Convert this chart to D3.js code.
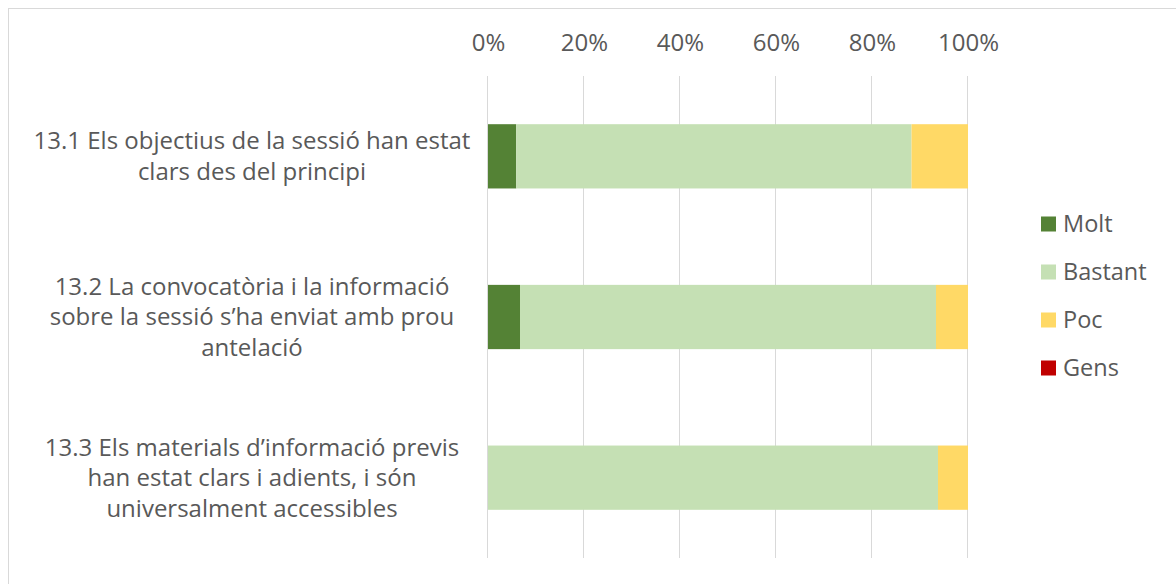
<!DOCTYPE html>
<html>
<head>
<meta charset="utf-8">
<script src="https://cdn.jsdelivr.net/npm/d3@7"></script>
<style>
  html, body { margin: 0; padding: 0; background: #fff; }
  svg { display: block; font-family: "Open Sans", sans-serif; }
</style>
</head>
<body>
<svg id="chart" width="1176" height="584"></svg>
<script>
const categories = [
  "13.1 Els objectius de la sessió han estat clars des del principi",
  "13.2 La convocatòria i la informació sobre la sessió s’ha enviat amb prou antelació",
  "13.3 Els materials d’informació previs han estat clars i adients, i són universalment accessibles"
];
const seriesNames = ["Molt", "Bastant", "Poc", "Gens"];
const seriesColors = ["#548235", "#c5e0b4", "#ffd966", "#c00000"];
const molt    = [1 / 17, 1 / 15, 0];
const bastant = [14 / 17, 13 / 15, 15 / 16];
const poc     = [2 / 17, 1 / 15, 1 / 16];
const gens    = [0, 0, 0];
const tickValues = [0, 0.2, 0.4, 0.6, 0.8, 1.0];

const rows = categories.map((c, i) => ({
  cat: c, Molt: molt[i], Bastant: bastant[i], Poc: poc[i], Gens: gens[i]
}));

const svg = d3.select("#chart");
const textColor = "#595959";

// chart border
svg.append("rect")
  .attr("x", 8.5).attr("y", 8.5)
  .attr("width", 1180).attr("height", 600)
  .attr("fill", "none").attr("stroke", "#d9d9d9").attr("stroke-width", 1);

const x = d3.scaleLinear().domain([0, 1]).range([488, 968]);
const y = d3.scaleBand().domain(categories).range([76, 558]).paddingInner(0.6).paddingOuter(0.3);

// gridlines
svg.append("g").selectAll("line").data(tickValues).join("line")
  .attr("x1", d => Math.round(x(d)) - 0.5).attr("x2", d => Math.round(x(d)) - 0.5)
  .attr("y1", 76).attr("y2", 558)
  .attr("stroke", "#d9d9d9").attr("stroke-width", 1);

// top axis labels
const xAxis = d3.axisTop(x).tickValues(tickValues).tickFormat(d3.format(".0%")).tickSize(0).tickPadding(0);
const gx = svg.append("g").attr("transform", "translate(0,51)").call(xAxis);
gx.select(".domain").remove();
gx.selectAll("text").attr("fill", textColor).style("font-size", "24px")
  .style("font-family", "'Open Sans', sans-serif");

// stacked bars
const stack = d3.stack().keys(seriesNames);
const stacked = stack(rows);
const color = d3.scaleOrdinal().domain(seriesNames).range(seriesColors);

svg.append("g").selectAll("g").data(stacked).join("g")
  .attr("fill", d => color(d.key))
  .selectAll("rect").data(d => d).join("rect")
  .attr("x", d => x(d[0]))
  .attr("width", d => Math.max(0, x(d[1]) - x(d[0])))
  .attr("y", d => y(d.data.cat))
  .attr("height", y.bandwidth());

// category labels (wrapped, centered)
const labelG = svg.append("g");
const lineH = 30.5;
const maxW = 448;
const centerX = 252;
categories.forEach(cat => {
  const t = labelG.append("text")
    .attr("fill", textColor).style("font-size", "24px")
    .attr("text-anchor", "middle");
  const words = cat.split(" ");
  let lines = [];
  let cur = [];
  const probe = t.append("tspan");
  words.forEach(w => {
    cur.push(w);
    probe.text(cur.join(" "));
    if (probe.node().getComputedTextLength() > maxW && cur.length > 1) {
      cur.pop();
      lines.push(cur.join(" "));
      cur = [w];
    }
  });
  lines.push(cur.join(" "));
  probe.remove();
  const cy = y(cat) + y.bandwidth() / 2;
  const startY = cy - (lines.length - 1) * lineH / 2;
  lines.forEach((l, i) => {
    t.append("tspan").attr("x", centerX).attr("y", startY + i * lineH)
      .attr("dy", "0.35em").text(l);
  });
});

// legend
const leg = svg.append("g");
seriesNames.forEach((s, i) => {
  const cy = 224 + i * 48;
  leg.append("rect").attr("x", 1041).attr("y", cy - 7.5).attr("width", 15).attr("height", 15)
    .attr("fill", seriesColors[i]);
  leg.append("text").attr("x", 1063).attr("y", cy).attr("dy", "0.35em")
    .attr("fill", textColor).style("font-size", "23.5px").text(s);
});
</script>
</body>
</html>
